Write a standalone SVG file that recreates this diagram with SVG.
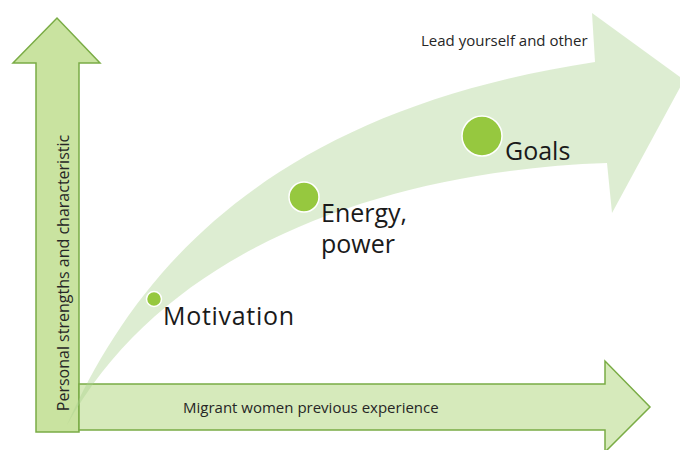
<svg xmlns="http://www.w3.org/2000/svg" width="680" height="450" viewBox="0 0 680 450">
<style>
.ax{stroke:#7aac45;stroke-width:1.5;stroke-linejoin:miter}
.dot{fill:#96c83f;stroke:#ffffff;stroke-width:1.5}
.big{font-family:"Open Sans","Liberation Sans",sans-serif;font-size:25px;fill:#1a1a1a}
.small{font-family:"Open Sans","Liberation Sans",sans-serif;font-size:15px;fill:#262626}
</style>
<rect width="680" height="450" fill="#ffffff"/>
<g id="y-axis">
<path class="ax" fill="#c9e3a0" d="M36,432 L36,63 L13,63 L57,18 L100,63 L79,63 L79,432 Z"/>
<text class="small" style="font-size:16px" transform="translate(69,273) rotate(-90)" text-anchor="middle">Personal strengths and characteristic</text>
</g>
<g id="x-axis">
<path class="ax" fill="#d6eabb" d="M79,384 L605,384 L605,361 L650,407 L605,452 L605,430 L79,430 Z"/>
<text class="small" x="183" y="413">Migrant women previous experience</text>
</g>
<g id="growth-arrow">
<path fill="#a9d18e" fill-opacity="0.4" d="M67,425 C140,260 280,110 595,62 L592,13 L684,80 L612,213 L607,163 C400,170 170,240 67,425 Z"/>
<text class="small" x="421" y="46">Lead yourself and other</text>
</g>
<g id="motivation">
<circle class="dot" cx="154" cy="299" r="7.5"/>
<text class="big" x="163" y="325" textLength="131">Motivation</text>
</g>
<g id="energy">
<circle class="dot" cx="304" cy="197" r="15"/>
<text class="big" x="321" y="222">Energy,</text>
<text class="big" x="321" y="253">power</text>
</g>
<g id="goals">
<circle class="dot" cx="482" cy="136" r="20"/>
<text class="big" x="505" y="160">Goals</text>
</g>
</svg>
